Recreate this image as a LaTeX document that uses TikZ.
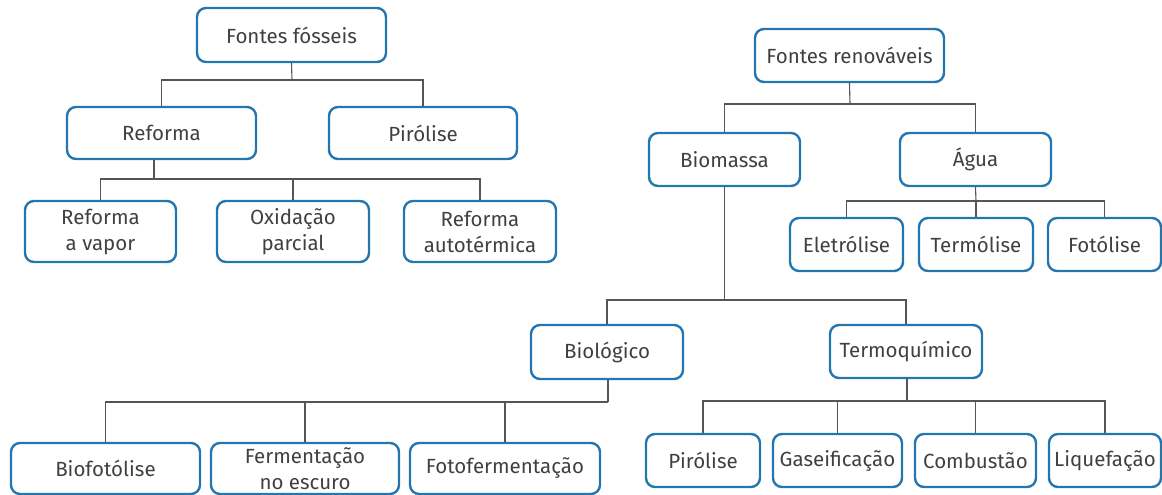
\documentclass[tikz,border=0pt]{standalone}
\usepackage{fontspec}
\setmainfont{Fira Sans}
\usepackage{xcolor}

\begin{document}
\begin{tikzpicture}[x=1pt, y=-1pt,
    box/.style={draw=boxblue, line width=2.4pt, rounded corners=9pt, text=txtgray,
        align=center, inner sep=0pt, minimum height=53pt, font=\fontsize{20.5}{26}\selectfont},
    link/.style={draw=linegray, line width=1.1pt}]
    % Define colors
    \definecolor{boxblue}{RGB}{37, 118, 175}
    \definecolor{txtgray}{RGB}{64, 64, 64}
    \definecolor{linegray}{RGB}{85, 85, 85}

    \useasboundingbox (0,0) rectangle (1162,495);

    % Fossil sources
    \node[box, minimum width=189pt, minimum height=54pt] (ff) at (291.5,35) {Fontes fósseis};
    \node[box, minimum width=189pt, minimum height=52pt] (ref) at (161.5,133) {Reforma};
    \node[box, minimum width=188pt, minimum height=52pt] (pir) at (423,133) {Pirólise};
    \node[box, minimum width=151pt, minimum height=61pt] (rv) at (100.5,231.5) {Reforma\\a vapor};
    \node[box, minimum width=152pt, minimum height=61pt] (ox) at (293,231.5) {Oxidação\\parcial};
    \node[box, minimum width=152pt, minimum height=61pt] (ra) at (480,231.5) {Reforma\\autotérmica};

    % Renewable sources
    \node[box, minimum width=189pt] (fr) at (849.5,55.5) {Fontes renováveis};
    \node[box, minimum width=151pt] (bio) at (724.5,159.5) {Biomassa};
    \node[box, minimum width=151pt] (agua) at (975.5,159.5) {Água};
    \node[box, minimum width=113pt] (ele) at (846.5,244.5) {Eletrólise};
    \node[box, minimum width=114pt] (ter) at (976,244.5) {Termólise};
    \node[box, minimum width=113pt] (fot) at (1104.5,244.5) {Fotólise};
    \node[box, minimum width=152pt, minimum height=54pt] (biol) at (607,352) {Biológico};
    \node[box, minimum width=152pt] (tq) at (906,351.5) {Termoquímico};
    \node[box, minimum width=189pt, minimum height=51pt] (bft) at (105.5,468.5) {Biofotólise};
    \node[box, minimum width=188pt, minimum height=51pt] (fer) at (305,468.5) {Fermentação\\no escuro};
    \node[box, minimum width=190pt, minimum height=51pt] (fotf) at (505,468.5) {Fotofermentação};
    \node[box, minimum width=114pt] (pir2) at (703,460.5) {Pirólise};
    \node[box, minimum width=129pt] (gas) at (837.5,460.5) {Gaseificação};
    \node[box, minimum width=121pt] (comb) at (975.5,460.5) {Combustão};
    \node[box, minimum width=112pt] (liq) at (1105,460.5) {Liquefação};

    % Junctions
    \coordinate (jff) at (292,80);
    \coordinate (jref) at (154,179);
    \coordinate (jfr) at (850,104);
    \coordinate (jag) at (976,201);
    \coordinate (jbio) at (724.5,300);
    \coordinate (jbiol) at (608,402);
    \coordinate (jtq) at (907,401);

    % Draw connectors
    \draw[link] (ff.south) -- (jff);
    \foreach \c in {ref,pir} \draw[link] (jff) -| (\c.north);
    \draw[link] (jref |- ref.south) -- (jref);
    \foreach \c in {rv,ox,ra} \draw[link] (jref) -| (\c.north);
    \draw[link] (fr.south) -- (jfr);
    \foreach \c in {bio,agua} \draw[link] (jfr) -| (\c.north);
    \draw[link] (agua.south) -- (jag);
    \foreach \c in {ele,ter,fot} \draw[link] (jag) -| (\c.north);
    \draw[link] (bio.south) -- (jbio);
    \foreach \c in {biol,tq} \draw[link] (jbio) -| (\c.north);
    \draw[link] (jbiol |- biol.south) -- (jbiol);
    \foreach \c in {bft,fer,fotf} \draw[link] (jbiol) -| (\c.north);
    \draw[link] (jtq |- tq.south) -- (jtq);
    \foreach \c in {pir2,gas,comb,liq} \draw[link] (jtq) -| (\c.north);
\end{tikzpicture}
\end{document}
